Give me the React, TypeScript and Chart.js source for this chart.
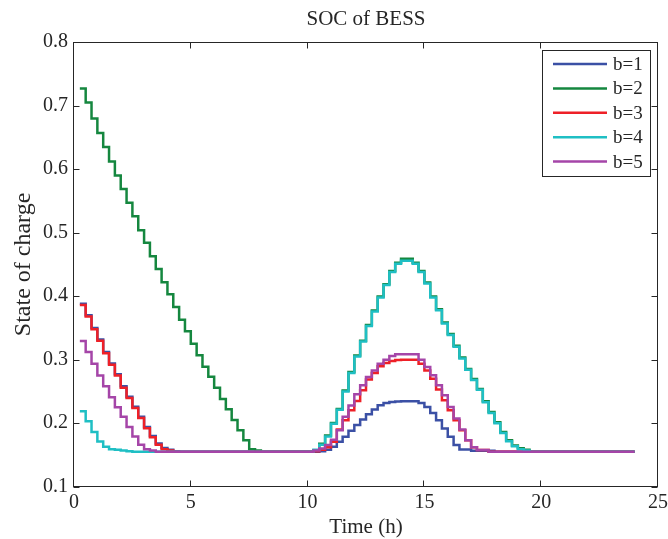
import { useEffect, useRef } from 'react'
import { Chart, registerables } from 'chart.js'
Chart.register(...registerables)

const FONT = "'Liberation Serif', 'Times New Roman', serif"
const TEXT = '#262626'

// 15-minute time grid (h)
const TIMES = [
  0.25, 0.5, 0.75, 1, 1.25, 1.5, 1.75, 2,
  2.25, 2.5, 2.75, 3, 3.25, 3.5, 3.75, 4,
  4.25, 4.5, 4.75, 5, 5.25, 5.5, 5.75, 6,
  6.25, 6.5, 6.75, 7, 7.25, 7.5, 7.75, 8,
  8.25, 8.5, 8.75, 9, 9.25, 9.5, 9.75, 10,
  10.25, 10.5, 10.75, 11, 11.25, 11.5, 11.75, 12,
  12.25, 12.5, 12.75, 13, 13.25, 13.5, 13.75, 14,
  14.25, 14.5, 14.75, 15, 15.25, 15.5, 15.75, 16,
  16.25, 16.5, 16.75, 17, 17.25, 17.5, 17.75, 18,
  18.25, 18.5, 18.75, 19, 19.25, 19.5, 19.75, 20,
  20.25, 20.5, 20.75, 21, 21.25, 21.5, 21.75, 22,
  22.25, 22.5, 22.75, 23, 23.25, 23.5, 23.75, 24,
]

const SOC_B1 = [
  0.388, 0.370, 0.350, 0.332, 0.312, 0.294, 0.277, 0.258,
  0.2415, 0.226, 0.210, 0.194, 0.180, 0.168, 0.161, 0.158,
  0.156, 0.155, 0.155, 0.155, 0.155, 0.155, 0.155, 0.155,
  0.155, 0.155, 0.155, 0.155, 0.155, 0.155, 0.155, 0.155,
  0.155, 0.155, 0.155, 0.155, 0.155, 0.155, 0.155, 0.155,
  0.155, 0.156, 0.158, 0.1628, 0.1707, 0.1785, 0.188, 0.197,
  0.2058, 0.214, 0.2216, 0.2283, 0.232, 0.2335, 0.234, 0.2346,
  0.2346, 0.2346, 0.232, 0.2256, 0.216, 0.2048, 0.1917, 0.1785,
  0.1655, 0.1587, 0.1587, 0.1565, 0.1565, 0.1565, 0.1565, 0.155,
  0.155, 0.155, 0.155, 0.155, 0.155, 0.155, 0.155, 0.155,
  0.155, 0.155, 0.155, 0.155, 0.155, 0.155, 0.155, 0.155,
  0.155, 0.155, 0.155, 0.155, 0.155, 0.155, 0.155, 0.155,
]

const SOC_B2 = [
  0.727, 0.705, 0.680, 0.657, 0.635, 0.612, 0.590, 0.569,
  0.547, 0.526, 0.504, 0.484, 0.463, 0.443, 0.422, 0.403,
  0.383, 0.363, 0.345, 0.325, 0.307, 0.289, 0.273, 0.256,
  0.238, 0.222, 0.205, 0.189, 0.173, 0.159, 0.157, 0.155,
  0.155, 0.155, 0.155, 0.155, 0.155, 0.155, 0.155, 0.155,
  0.1575, 0.1675, 0.1805, 0.2005, 0.2225, 0.2515, 0.2805, 0.3065,
  0.330, 0.3545, 0.3775, 0.3995, 0.419, 0.4395, 0.4525, 0.459,
  0.459, 0.4525, 0.4395, 0.4215, 0.3995, 0.3795, 0.3585, 0.3405,
  0.322, 0.3035, 0.2855, 0.2695, 0.254, 0.2345, 0.2175, 0.2015,
  0.186, 0.173, 0.165, 0.1605, 0.158, 0.155, 0.155, 0.155,
  0.155, 0.155, 0.155, 0.155, 0.155, 0.155, 0.155, 0.155,
  0.155, 0.155, 0.155, 0.155, 0.155, 0.155, 0.155, 0.155,
]

const SOC_B3 = [
  0.386, 0.368, 0.348, 0.330, 0.310, 0.292, 0.275, 0.256,
  0.2395, 0.224, 0.208, 0.192, 0.178, 0.166, 0.159, 0.157,
  0.155, 0.155, 0.155, 0.155, 0.155, 0.155, 0.155, 0.155,
  0.155, 0.155, 0.155, 0.155, 0.155, 0.155, 0.155, 0.155,
  0.155, 0.155, 0.155, 0.155, 0.155, 0.155, 0.155, 0.155,
  0.156, 0.158, 0.162, 0.1707, 0.190, 0.2048, 0.2205, 0.235,
  0.2519, 0.2687, 0.279, 0.2896, 0.2948, 0.298, 0.2995, 0.300,
  0.300, 0.300, 0.2938, 0.283, 0.270, 0.253, 0.236, 0.2205,
  0.2048, 0.189, 0.1733, 0.162, 0.1576, 0.1576, 0.155, 0.155,
  0.155, 0.155, 0.155, 0.155, 0.155, 0.155, 0.155, 0.155,
  0.155, 0.155, 0.155, 0.155, 0.155, 0.155, 0.155, 0.155,
  0.155, 0.155, 0.155, 0.155, 0.155, 0.155, 0.155, 0.155,
]

const SOC_B4 = [
  0.219, 0.203, 0.186, 0.171, 0.163, 0.159, 0.158, 0.157,
  0.156, 0.155, 0.155, 0.155, 0.155, 0.155, 0.155, 0.155,
  0.155, 0.155, 0.155, 0.155, 0.155, 0.155, 0.155, 0.155,
  0.155, 0.155, 0.155, 0.155, 0.155, 0.155, 0.155, 0.155,
  0.155, 0.155, 0.155, 0.155, 0.155, 0.155, 0.155, 0.155,
  0.158, 0.166, 0.179, 0.199, 0.221, 0.250, 0.279, 0.305,
  0.3285, 0.353, 0.376, 0.398, 0.4175, 0.438, 0.451, 0.456,
  0.456, 0.451, 0.438, 0.420, 0.398, 0.378, 0.357, 0.339,
  0.3205, 0.302, 0.284, 0.268, 0.2526, 0.233, 0.216, 0.200,
  0.1846, 0.1715, 0.1637, 0.159, 0.157, 0.155, 0.155, 0.155,
  0.155, 0.155, 0.155, 0.155, 0.155, 0.155, 0.155, 0.155,
  0.155, 0.155, 0.155, 0.155, 0.155, 0.155, 0.155, 0.155,
]

const SOC_B5 = [
  0.3295, 0.312, 0.2935, 0.275, 0.258, 0.241, 0.225, 0.210,
  0.194, 0.179, 0.166, 0.159, 0.157, 0.155, 0.155, 0.155,
  0.155, 0.155, 0.155, 0.155, 0.155, 0.155, 0.155, 0.155,
  0.155, 0.155, 0.155, 0.155, 0.155, 0.155, 0.155, 0.155,
  0.155, 0.155, 0.155, 0.155, 0.155, 0.155, 0.155, 0.155,
  0.157, 0.160, 0.1655, 0.174, 0.189, 0.210, 0.228, 0.2456,
  0.2597, 0.2728, 0.283, 0.2938, 0.300, 0.3058, 0.3084, 0.3084,
  0.3084, 0.3084, 0.300, 0.2885, 0.2754, 0.2597, 0.244, 0.2256,
  0.2074, 0.190, 0.1733, 0.162, 0.1576, 0.1576, 0.155, 0.155,
  0.155, 0.155, 0.155, 0.155, 0.155, 0.155, 0.155, 0.155,
  0.155, 0.155, 0.155, 0.155, 0.155, 0.155, 0.155, 0.155,
  0.155, 0.155, 0.155, 0.155, 0.155, 0.155, 0.155, 0.155,
]

const SERIES = [
  { label: 'b=1', values: SOC_B1, color: '#3B50A5' },
  { label: 'b=2', values: SOC_B2, color: '#15873F' },
  { label: 'b=3', values: SOC_B3, color: '#EE2027' },
  { label: 'b=4', values: SOC_B4, color: '#1FBFC4' },
  { label: 'b=5', values: SOC_B5, color: '#A545A8' },
]

// axes box with inward ticks on all four sides (matlab style)
const framePlugin = {
  id: 'frame',
  afterDatasetsDraw(chart: any) {
    const { ctx, chartArea, scales } = chart
    const L = Math.round(chartArea.left) - 0.5
    const R = Math.round(chartArea.right) - 0.5
    const T = Math.round(chartArea.top) + 0.5
    const B = Math.round(chartArea.bottom) - 0.5
    const len = 6
    ctx.save()
    ctx.strokeStyle = TEXT
    ctx.lineWidth = 1
    ctx.strokeRect(L, T, R - L, B - T)
    ctx.beginPath()
    scales.x.ticks.forEach((t: any) => {
      const px = Math.round(scales.x.getPixelForValue(t.value)) - 0.5
      ctx.moveTo(px, B); ctx.lineTo(px, B - len)
      ctx.moveTo(px, T); ctx.lineTo(px, T + len)
    })
    scales.y.ticks.forEach((t: any) => {
      const py = Math.round(scales.y.getPixelForValue(t.value)) + 0.5
      ctx.moveTo(L, py); ctx.lineTo(L + len, py)
      ctx.moveTo(R, py); ctx.lineTo(R - len, py)
    })
    ctx.stroke()
    ctx.restore()
  },
}

const boxLegend = {
  id: 'boxLegend',
  afterDraw(chart: any) {
    const { ctx, chartArea } = chart
    const x0 = Math.round(chartArea.right) - 116
    const y0 = Math.round(chartArea.top) + 8
    const w = 108, h = 126
    ctx.save()
    ctx.fillStyle = '#fff'
    ctx.fillRect(x0, y0, w, h)
    ctx.strokeStyle = TEXT
    ctx.lineWidth = 1
    ctx.strokeRect(x0 + 0.5, y0 + 0.5, w, h)
    chart.data.datasets.forEach((ds: any, i: number) => {
      const yy = y0 + 14 + i * 24.4
      ctx.strokeStyle = ds.borderColor
      ctx.lineWidth = 2.5
      ctx.beginPath()
      ctx.moveTo(x0 + 11, yy)
      ctx.lineTo(x0 + 65, yy)
      ctx.stroke()
      ctx.fillStyle = TEXT
      ctx.font = `19px ${FONT}`
      ctx.textBaseline = 'middle'
      ctx.fillText(ds.label, x0 + 71, yy + 1)
    })
    ctx.restore()
  },
}

export default function App() {
  const canvasRef = useRef<HTMLCanvasElement>(null)

  useEffect(() => {
    if (!canvasRef.current) return
    const chart = new Chart(canvasRef.current, {
      type: 'line',
      data: {
        datasets: SERIES.map((s, i) => ({
          label: s.label,
          data: s.values.map((v, k) => ({ x: TIMES[k], y: v })),
          borderColor: s.color,
          backgroundColor: s.color,
          borderWidth: 2.5,
          pointRadius: 0,
          stepped: true,
          fill: false,
          order: SERIES.length - i,
        })),
      },
      options: {
        responsive: false,
        animation: false,
        layout: { padding: { left: 0, right: 10, top: 0, bottom: 0 } },
        plugins: {
          legend: { display: false },
          tooltip: { enabled: false },
          title: {
            display: true,
            text: 'SOC of BESS',
            fullSize: false,
            color: TEXT,
            font: { family: FONT, size: 21, weight: 'normal' },
            padding: { top: 7, bottom: 10 },
          },
        },
        scales: {
          x: {
            type: 'linear',
            min: 0,
            max: 25,
            grid: { display: false, drawTicks: false },
            border: { display: false },
            ticks: { stepSize: 5, color: TEXT, font: { family: FONT, size: 20 }, padding: 4, maxRotation: 0 },
            title: {
              display: true,
              text: 'Time (h)',
              color: TEXT,
              font: { family: FONT, size: 21 },
              padding: { top: 0, bottom: -1 },
            },
            afterFit: (s: any) => { s.height = 52.3; s.paddingLeft = 0; s.paddingRight = 0 },
          },
          y: {
            type: 'linear',
            min: 0.1,
            max: 0.8,
            grid: { display: false, drawTicks: false },
            border: { display: false },
            ticks: {
              stepSize: 0.1,
              color: TEXT,
              font: { family: FONT, size: 20 },
              padding: 6,
              callback: (v: any) => Number(v).toFixed(1),
            },
            title: {
              display: true,
              text: 'State of charge',
              color: TEXT,
              font: { family: FONT, size: 24 },
              padding: { top: 9, bottom: 0 },
            },
            afterFit: (s: any) => { s.width = 74; s.paddingTop = 0; s.paddingBottom = 0 },
          },
        },
      },
      plugins: [framePlugin, boxLegend],
    })
    return () => { chart.destroy() }
  }, [])

  return (
    <div style={{ position: 'absolute', left: 0, top: 0, width: 668, height: 539, background: '#fff' }}>
      <canvas ref={canvasRef} width={668} height={539} style={{ width: 668, height: 539 }} />
    </div>
  )
}
